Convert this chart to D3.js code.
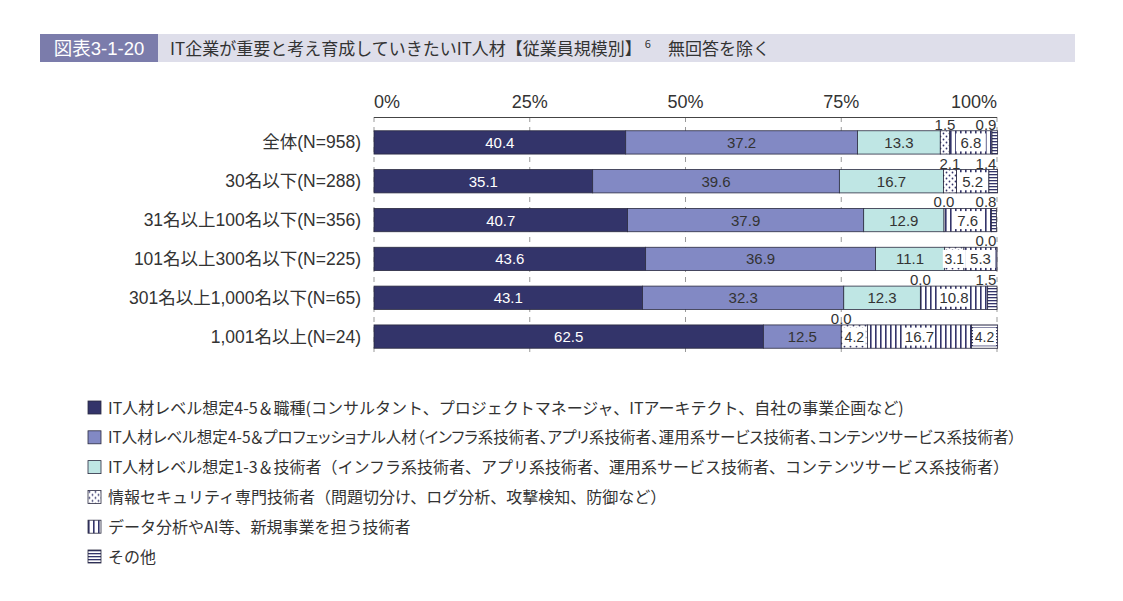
<!DOCTYPE html>
<html><head><meta charset="utf-8">
<script src="https://cdn.jsdelivr.net/npm/d3@7"></script>
<style>
body{margin:0;background:#fff;}
svg{display:block;}
</style></head>
<body>
<svg id="chart" width="1123" height="601"></svg>
<script>
const categories = ["全体(N=958)","30名以下(N=288)","31名以上100名以下(N=356)","101名以上300名以下(N=225)","301名以上1,000名以下(N=65)","1,001名以上(N=24)"];
const seriesNames = [
  "IT人材レベル想定4-5＆職種(コンサルタント、プロジェクトマネージャ、ITアーキテクト、自社の事業企画など)",
  "IT人材レベル想定4-5＆プロフェッショナル人材（インフラ系技術者、アプリ系技術者、運用系サービス技術者、コンテンツサービス系技術者）",
  "IT人材レベル想定1-3＆技術者（インフラ系技術者、アプリ系技術者、運用系サービス技術者、コンテンツサービス系技術者）",
  "情報セキュリティ専門技術者（問題切分け、ログ分析、攻撃検知、防御など）",
  "データ分析やAI等、新規事業を担う技術者",
  "その他"
];
const s1 = [40.4, 35.1, 40.7, 43.6, 43.1, 62.5];
const s2 = [37.2, 39.6, 37.9, 36.9, 32.3, 12.5];
const s3 = [13.3, 16.7, 12.9, 11.1, 12.3, 0.0];
const s4 = [1.5, 2.1, 0.0, 3.1, 0.0, 4.2];
const s5 = [6.8, 5.2, 7.6, 5.3, 10.8, 16.7];
const s6 = [0.9, 1.4, 0.8, 0.0, 1.5, 4.2];
const tickValues = [0, 25, 50, 75, 100];
const tickLabels = ["0%", "25%", "50%", "75%", "100%"];
const series = [s1, s2, s3, s4, s5, s6];

const svg = d3.select("#chart");
const defs = svg.append("defs");
const navy = "#33346a";
const latin = "'Liberation Sans',Arial,'Noto Sans CJK JP',sans-serif";
const cjk = "'Noto Sans CJK JP','Liberation Sans',sans-serif";

// patterns
const pDots = defs.append("pattern").attr("id","pDots").attr("patternUnits","userSpaceOnUse").attr("width",6).attr("height",6);
pDots.append("rect").attr("width",6).attr("height",6).attr("fill","#fff");
pDots.append("circle").attr("cx",1.5).attr("cy",1.5).attr("r",0.9).attr("fill",navy);
pDots.append("circle").attr("cx",4.5).attr("cy",4.5).attr("r",0.9).attr("fill",navy);
const pV = defs.append("pattern").attr("id","pV").attr("patternUnits","userSpaceOnUse").attr("width",5).attr("height",5);
pV.append("rect").attr("width",5).attr("height",5).attr("fill","#fff");
pV.append("rect").attr("x",0).attr("width",1.6).attr("height",5).attr("fill",navy);
const pH = defs.append("pattern").attr("id","pH").attr("patternUnits","userSpaceOnUse").attr("width",4).attr("height",3);
pH.append("rect").attr("width",4).attr("height",3).attr("fill","#fff");
pH.append("rect").attr("y",0).attr("width",4).attr("height",1.3).attr("fill",navy);

const fills = [navy, "#8289c4", "#bfe6e4", "url(#pDots)", "url(#pV)", "url(#pH)"];
const labelColors = ["#fff", "#333", "#333", "#333", "#333", "#333"];

// Title
svg.append("rect").attr("x",40).attr("y",34).attr("width",1035).attr("height",28).attr("fill","#dedeea");
svg.append("rect").attr("x",40).attr("y",34).attr("width",118).attr("height",28).attr("fill","#7b7cab");
svg.append("text").attr("x",99).attr("y",55).attr("text-anchor","middle").attr("fill","#fff")
  .style("font-family",latin).style("font-size","18.5px").text("図表3-1-20");
const t = svg.append("text").attr("x",170).attr("y",55).attr("fill","#333")
  .style("font-family",cjk).style("font-size","17px");
t.append("tspan").text("IT企業が重要と考え育成していきたいIT人材【従業員規模別】");
t.append("tspan").attr("dy",-7).attr("dx",3).style("font-size","11px").text("6");
t.append("tspan").attr("dy",7).attr("dx",17).text("無回答を除く");

// scales
const x = d3.scaleLinear().domain([0,100]).range([374,997]);
const y = d3.scaleBand().domain(categories).range([123,356]).paddingInner(0.4).paddingOuter(0.2);

// grid
const g = svg.append("g");
g.selectAll("line.grid").data(tickValues).join("line")
  .attr("x1",d=>x(d)).attr("x2",d=>x(d)).attr("y1",117).attr("y2",357)
  .attr("stroke","#999").attr("stroke-width",1).attr("stroke-dasharray","5,5");
g.append("line").attr("x1",x(0)).attr("x2",x(100)).attr("y1",117.5).attr("y2",117.5).attr("stroke","#444").attr("stroke-width",1);

// tick labels
g.selectAll("text.tick").data(tickValues).join("text")
  .attr("x",d=>x(d)).attr("y",108)
  .attr("text-anchor",(d,i)=> i===0 ? "start" : (i===tickValues.length-1 ? "end" : "middle"))
  .style("font-family",latin).style("font-size","18px").attr("fill","#333")
  .text((d,i)=>tickLabels[i]);

// category labels
g.selectAll("text.cat").data(categories).join("text")
  .attr("x",361).attr("y",d=>y(d)+y.bandwidth()/2+6)
  .attr("text-anchor","end")
  .style("font-family",latin).style("font-size","17.5px").attr("fill","#333")
  .text(d=>d);

// stacked segments
const stackData = categories.map((c,i)=>{
  let acc = 0;
  return series.map((s,k)=>{ const v = s[i]; const seg = {cat:c, k, v, x0:acc, x1:acc+v}; acc += v; return seg; });
});
const segs = stackData.flat();
g.selectAll("rect.seg").data(segs.filter(d=>d.v>0)).join("rect")
  .attr("x",d=>x(d.x0)).attr("y",d=>y(d.cat)).attr("width",d=>x(d.x1)-x(d.x0)).attr("height",y.bandwidth())
  .attr("fill",d=>fills[d.k]).attr("stroke","#2a2a40").attr("stroke-width",0.8);

// inside labels
const inside = segs.filter(d=>d.v>=3);
const lbl = g.selectAll("g.lbl").data(inside).join("g")
  .attr("transform",d=>`translate(${(x(d.x0)+x(d.x1))/2},${y(d.cat)+y.bandwidth()/2})`);
lbl.filter(d=>d.k>=3).append("rect")
  .attr("x",d=> d.v<5 ? -11.5 : -15).attr("y",-9).attr("width",d=> d.v<5 ? 23 : 30).attr("height",18).attr("fill","#fff");
lbl.append("text").attr("text-anchor","middle").attr("dy",5.5)
  .style("font-family",latin).style("font-size",d=> d.k>=3 && d.v<5 ? "14px" : "15px")
  .attr("fill",d=>labelColors[d.k]).text(d=>d.v.toFixed(1));

// outside labels (small values above bar)
const outside = segs.filter(d=>d.v<3);
g.selectAll("text.out").data(outside).join("text")
  .attr("x",d=>{ const cx=(x(d.x0)+x(d.x1))/2; return Math.min(cx, x(100)-11); })
  .attr("y",d=>y(d.cat)-1)
  .attr("text-anchor","middle")
  .style("font-family",latin).style("font-size","15px").attr("fill","#333")
  .text(d=>d.v.toFixed(1));

// legend
const lg = svg.append("g");
const legendRows = lg.selectAll("g.leg").data(seriesNames).join("g")
  .attr("transform",(d,i)=>`translate(88,${401+i*29.8})`);
legendRows.append("rect").attr("width",13).attr("height",13).attr("fill",(d,i)=>fills[i]).attr("stroke","#2a2a40").attr("stroke-width",0.8);
const maxLegendW = 1017 - 108;
legendRows.append("text").attr("x",20).attr("y",12.5)
  .style("font-family",cjk).style("font-size","16px").attr("fill","#333")
  .text(d=>d)
  .each(function(){
    let w = this.getComputedTextLength();
    if (w > maxLegendW) {
      d3.select(this).style("font-feature-settings","'palt' 1");
      w = this.getComputedTextLength();
      if (w > maxLegendW) d3.select(this).style("font-size", (16 * maxLegendW / w).toFixed(2) + "px");
    }
  });
</script>
</body></html>
